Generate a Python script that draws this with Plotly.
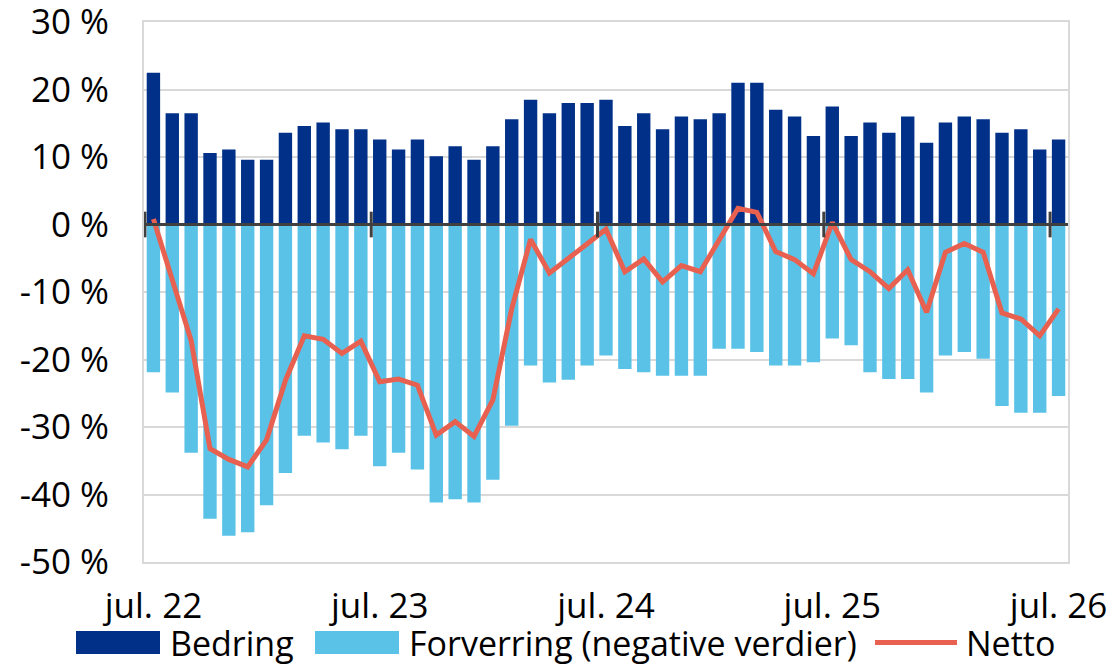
import plotly.graph_objects as go

# ---- data (percent) ----
months = ["jul. 22", "aug. 22", "sep. 22", "okt. 22", "nov. 22", "des. 22",
          "jan. 23", "feb. 23", "mar. 23", "apr. 23", "mai 23", "jun. 23",
          "jul. 23", "aug. 23", "sep. 23", "okt. 23", "nov. 23", "des. 23",
          "jan. 24", "feb. 24", "mar. 24", "apr. 24", "mai 24", "jun. 24",
          "jul. 24", "aug. 24", "sep. 24", "okt. 24", "nov. 24", "des. 24",
          "jan. 25", "feb. 25", "mar. 25", "apr. 25", "mai 25", "jun. 25",
          "jul. 25", "aug. 25", "sep. 25", "okt. 25", "nov. 25", "des. 25",
          "jan. 26", "feb. 26", "mar. 26", "apr. 26", "mai 26", "jun. 26",
          "jul. 26"]

bedring = [22.5, 16.5, 16.5, 10.6, 11.1, 9.6, 9.6, 13.6, 14.6, 15.1, 14.1, 14.1,
           12.6, 11.1, 12.6, 10.1, 11.6, 9.6, 11.6, 15.6, 18.5, 16.5, 18.0, 18.0,
           18.5, 14.6, 16.5, 14.1, 16.0, 15.6, 16.5, 21.0, 21.0, 17.0, 16.0, 13.1,
           17.5, 13.1, 15.1, 13.6, 16.0, 12.1, 15.1, 16.0, 15.6, 13.6, 14.1, 11.1,
           12.6]

forverring = [-21.9, -24.9, -33.8, -43.6, -46.1, -45.6, -41.6, -36.8, -31.3, -32.3, -33.3, -31.3,
              -35.8, -33.8, -36.3, -41.2, -40.7, -41.2, -37.8, -29.8, -20.9, -23.4, -23.0, -20.9,
              -19.4, -21.4, -21.9, -22.4, -22.4, -22.4, -18.4, -18.4, -18.9, -20.9, -20.9, -20.4,
              -16.9, -17.9, -21.9, -22.9, -22.9, -24.9, -19.4, -18.9, -19.9, -26.9, -27.9, -27.9,
              -25.4]

netto = [0.8, -8.2, -17.2, -33.2, -34.8, -35.9, -31.9, -23.1, -16.5, -17.0, -19.1, -17.3,
         -23.3, -22.9, -23.8, -31.2, -29.2, -31.4, -26.0, -12.5, -2.2, -7.2, -5.0, -2.7,
         -0.7, -7.0, -5.1, -8.5, -6.1, -7.0, -2.2, 2.4, 1.8, -4.0, -5.2, -7.3,
         0.3, -5.2, -7.0, -9.5, -6.7, -13.0, -4.1, -2.8, -4.1, -13.1, -14.0, -16.5,
         -12.5]

x_tick_labels = ["jul. 22", "jul. 23", "jul. 24", "jul. 25", "jul. 26"]
y_tick_values = [30, 20, 10, 0, -10, -20, -30, -40, -50]
y_tick_labels = ["30 %", "20 %", "10 %", "0 %", "-10 %", "-20 %", "-30 %", "-40 %", "-50 %"]

# ---- styling ----
NAVY = "#003087"
LIGHT = "#5BC2E7"
RED = "#E8604F"
GRID = "#D9D9D9"
AXIS = "#404040"
FONT = "Open Sans"
FS = 35
FS_LEG = 34

W, H = 1114, 666
ML, MR, MT, MB = 144, 46, 22, 104
PW, PH = W - ML - MR, H - MT - MB

def px(xp):
    return (xp - ML) / PW

def py(yp):
    return 1 - (yp - MT) / PH

idx = list(range(len(months)))
tick_idx = [months.index(m) for m in x_tick_labels]

fig = go.Figure()
fig.add_trace(go.Bar(x=idx, y=bedring, name="Bedring", marker_color=NAVY,
                     marker_line_width=0, showlegend=False))
fig.add_trace(go.Bar(x=idx, y=forverring, name="Forverring (negative verdier)",
                     marker_color=LIGHT, marker_line_width=0, showlegend=False))
fig.add_trace(go.Scatter(x=idx, y=netto, name="Netto", mode="lines",
                         line=dict(color=RED, width=5), showlegend=False))

# zero line and tick marks on it
shapes = [dict(type="line", xref="paper", yref="y", x0=0, x1=1, y0=0, y1=0,
               line=dict(color=AXIS, width=3), layer="above")]
for t in tick_idx:
    shapes.append(dict(type="line", xref="x", yref="y", x0=t - 0.45, x1=t - 0.45,
                       y0=-1.9, y1=1.9, line=dict(color=AXIS, width=3), layer="above"))

# custom legend
annotations = []
leg_y0, leg_y1 = 631, 654
leg_mid = (leg_y0 + leg_y1) / 2
for (x0, x1, col, label, tx) in [(76, 160, NAVY, "Bedring", 168),
                                 (315, 399, LIGHT, "Forverring (negative verdier)", 407)]:
    shapes.append(dict(type="rect", xref="paper", yref="paper",
                       x0=px(x0), x1=px(x1), y0=py(leg_y1), y1=py(leg_y0),
                       fillcolor=col, line=dict(width=0)))
    annotations.append(dict(xref="paper", yref="paper", x=px(tx), y=py(leg_mid),
                            text=label, showarrow=False, xanchor="left", yanchor="middle",
                            font=dict(family=FONT, size=FS_LEG, color="black")))
shapes.append(dict(type="line", xref="paper", yref="paper",
                   x0=px(875), x1=px(957), y0=py(leg_mid), y1=py(leg_mid),
                   line=dict(color=RED, width=5)))
annotations.append(dict(xref="paper", yref="paper", x=px(964), y=py(leg_mid),
                        text="Netto", showarrow=False, xanchor="left", yanchor="middle",
                        font=dict(family=FONT, size=FS_LEG, color="black")))

fig.update_layout(
    width=W, height=H,
    margin=dict(l=ML, r=MR, t=MT, b=MB, pad=0, autoexpand=False),
    paper_bgcolor="white", plot_bgcolor="white",
    barmode="relative", bargap=0.29,
    font=dict(family=FONT, size=FS, color="black"),
    shapes=shapes, annotations=annotations,
    showlegend=False,
    xaxis=dict(range=[-0.5, len(months) - 0.5], tickvals=tick_idx, ticktext=x_tick_labels,
               showgrid=False, zeroline=False, ticks="", automargin=False,
               showline=True, linecolor=GRID, linewidth=2, mirror=True,
               ticklabelstandoff=12, ticklabeloverflow="allow",
               tickfont=dict(family=FONT, size=FS)),
    yaxis=dict(range=[-50, 30], tickvals=y_tick_values, ticktext=y_tick_labels,
               showgrid=True, gridcolor=GRID, gridwidth=2, zeroline=False, ticks="",
               automargin=False,
               showline=True, linecolor=GRID, linewidth=2, mirror=True,
               ticklabelstandoff=26, ticklabeloverflow="allow",
               tickfont=dict(family=FONT, size=FS)),
)

fig.write_html("out.html", config={"displayModeBar": False},
               post_script="document.body.style.margin='0';document.body.style.overflow='hidden';")
